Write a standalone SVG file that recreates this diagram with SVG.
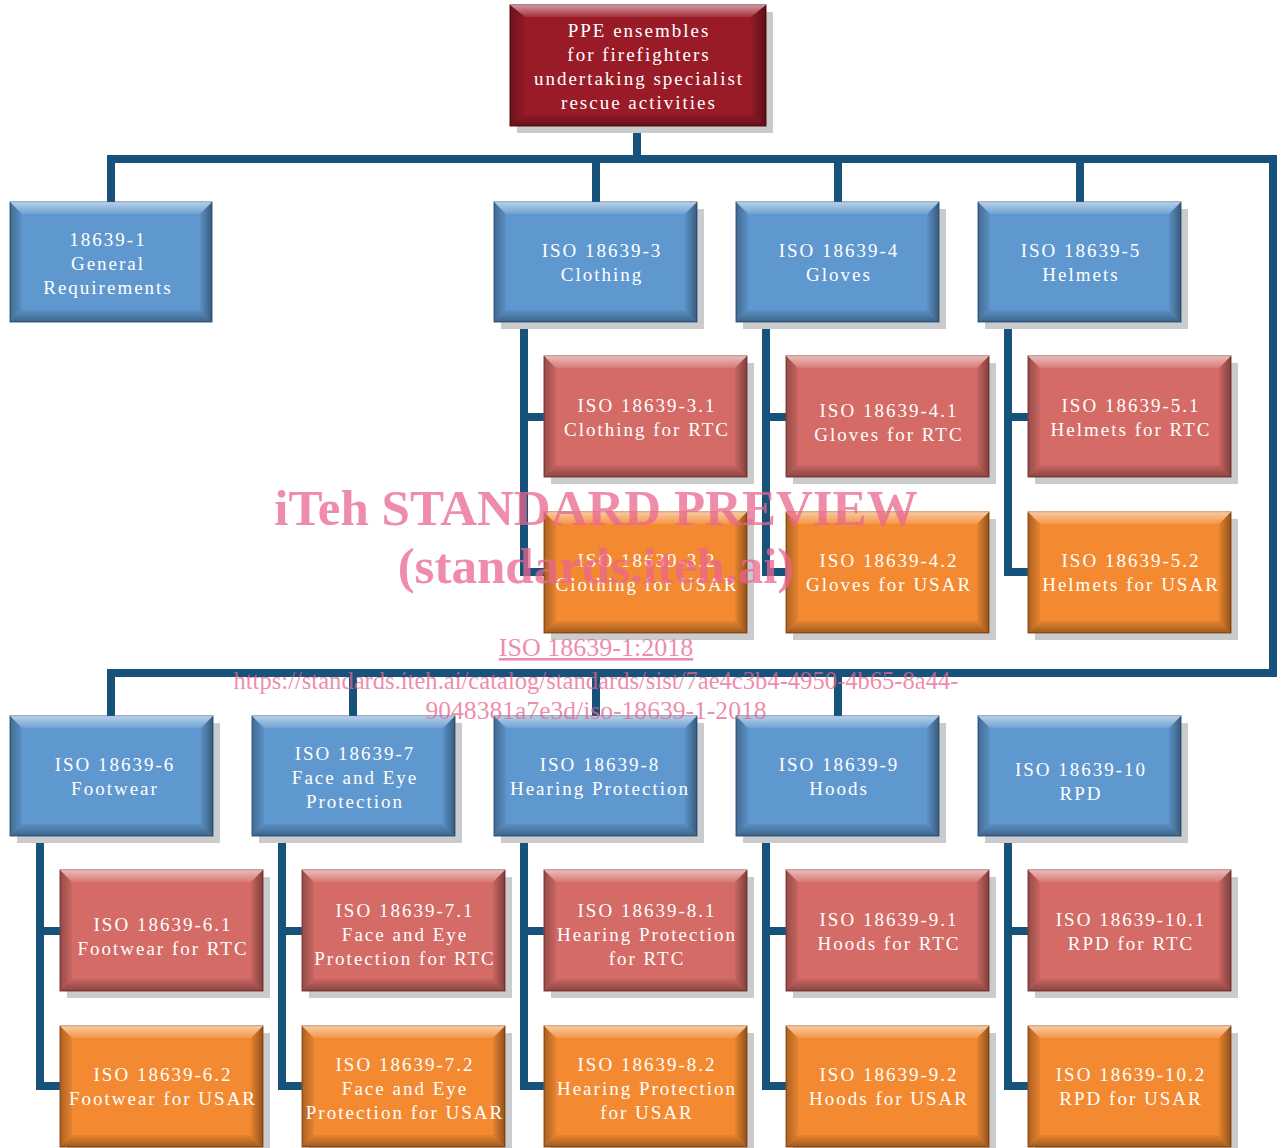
<svg xmlns="http://www.w3.org/2000/svg" xmlns:xlink="http://www.w3.org/1999/xlink" width="1281" height="1148" viewBox="0 0 1281 1148">
<style>
.sh{fill:#c9cbcc}
.blue{fill:#5f98cf;stroke:#3d6790;stroke-width:1}
.red{fill:#d46b66;stroke:#8e4040;stroke-width:1}
.orange{fill:#f38a31;stroke:#a4581c;stroke-width:1}
.dark{fill:#9a1b28;stroke:#5a0e15;stroke-width:1}
.lbl{font-family:"Liberation Serif","DejaVu Serif",serif;font-size:19px;letter-spacing:2px;fill:#ffffff;text-anchor:middle}
.conn{fill:none;stroke:#16527a;stroke-width:8;stroke-linejoin:miter;stroke-linecap:butt}
.wm{font-family:"Liberation Serif","Times New Roman",serif;fill:#e9668f;fill-opacity:0.75;text-anchor:middle}
</style>
<defs>
<linearGradient id="gTop" x1="0" y1="0" x2="0" y2="1">
<stop offset="0" stop-color="#fff" stop-opacity="0.55"/>
<stop offset="1" stop-color="#fff" stop-opacity="0.1"/>
</linearGradient>
<linearGradient id="gBot" x1="0" y1="0" x2="0" y2="1">
<stop offset="0" stop-color="#000" stop-opacity="0.05"/>
<stop offset="1" stop-color="#000" stop-opacity="0.35"/>
</linearGradient>
<linearGradient id="gLeft" x1="0" y1="0" x2="1" y2="0">
<stop offset="0" stop-color="#000" stop-opacity="0.3"/>
<stop offset="1" stop-color="#000" stop-opacity="0.05"/>
</linearGradient>
<linearGradient id="gRight" x1="0" y1="0" x2="1" y2="0">
<stop offset="0" stop-color="#000" stop-opacity="0.05"/>
<stop offset="1" stop-color="#000" stop-opacity="0.4"/>
</linearGradient>
<symbol id="bevel" viewBox="0 0 203 121" preserveAspectRatio="none">
<polygon points="0,0 203,0 191,12 12,12" fill="url(#gTop)"/>
<polygon points="0,121 203,121 191,109 12,109" fill="url(#gBot)"/>
<polygon points="0,0 12,12 12,109 0,121" fill="url(#gLeft)"/>
<polygon points="203,0 191,12 191,109 203,121" fill="url(#gRight)"/>
</symbol>
</defs>

<g id="connectors">
<path class="conn" d="M637,126 V159"/>
<path class="conn" d="M111,202 V159 H1273 V673 H111 V716"/>
<path class="conn" d="M596,159 V202 M838,159 V202 M1080,159 V202"/>
<path class="conn" d="M353,673 V716 M596,673 V716 M838,673 V716"/>
<path class="conn" d="M524,322 V572 H544 M524,417 H544"/>
<path class="conn" d="M766,322 V572 H786 M766,417 H786"/>
<path class="conn" d="M1008,322 V572 H1028 M1008,417 H1028"/>
<path class="conn" d="M40,836 V1086 H60 M40,931 H60"/>
<path class="conn" d="M282,836 V1086 H302 M282,931 H302"/>
<path class="conn" d="M524,836 V1086 H544 M524,931 H544"/>
<path class="conn" d="M766,836 V1086 H786 M766,931 H786"/>
<path class="conn" d="M1008,836 V1086 H1028 M1008,931 H1028"/>
</g>

<g id="root">
<rect class="sh" x="517" y="12" width="256" height="121"/>
<rect class="dark" x="510" y="5" width="256" height="121"/>
<use href="#bevel" x="510" y="5" width="256" height="121"/>
<text class="lbl"><tspan x="639" y="37">PPE ensembles</tspan><tspan x="639" y="61">for firefighters</tspan><tspan x="639" y="85">undertaking specialist</tspan><tspan x="639" y="109">rescue activities</tspan></text>
</g>

<g id="n1">
<rect class="blue" x="10" y="202" width="202" height="120"/>
<use href="#bevel" x="10" y="202" width="202" height="120"/>
<text class="lbl"><tspan x="108" y="246">18639-1</tspan><tspan x="108" y="270">General</tspan><tspan x="108" y="294">Requirements</tspan></text>
</g>

<g id="n3">
<rect class="sh" x="501" y="209" width="203" height="120"/>
<rect class="blue" x="494" y="202" width="203" height="120"/>
<use href="#bevel" x="494" y="202" width="203" height="120"/>
<text class="lbl"><tspan x="602" y="257">ISO 18639-3</tspan><tspan x="602" y="281">Clothing</tspan></text>
</g>
<g id="n4">
<rect class="sh" x="743" y="209" width="203" height="120"/>
<rect class="blue" x="736" y="202" width="203" height="120"/>
<use href="#bevel" x="736" y="202" width="203" height="120"/>
<text class="lbl"><tspan x="839" y="257">ISO 18639-4</tspan><tspan x="839" y="281">Gloves</tspan></text>
</g>
<g id="n5">
<rect class="sh" x="985" y="209" width="203" height="120"/>
<rect class="blue" x="978" y="202" width="203" height="120"/>
<use href="#bevel" x="978" y="202" width="203" height="120"/>
<text class="lbl"><tspan x="1081" y="257">ISO 18639-5</tspan><tspan x="1081" y="281">Helmets</tspan></text>
</g>

<g id="n3-1">
<rect class="sh" x="551" y="363" width="203" height="121"/>
<rect class="red" x="544" y="356" width="203" height="121"/>
<use href="#bevel" x="544" y="356" width="203" height="121"/>
<text class="lbl"><tspan x="647" y="412">ISO 18639-3.1</tspan><tspan x="647" y="436">Clothing for RTC</tspan></text>
</g>
<g id="n4-1">
<rect class="sh" x="793" y="363" width="203" height="121"/>
<rect class="red" x="786" y="356" width="203" height="121"/>
<use href="#bevel" x="786" y="356" width="203" height="121"/>
<text class="lbl"><tspan x="889" y="417">ISO 18639-4.1</tspan><tspan x="889" y="441">Gloves for RTC</tspan></text>
</g>
<g id="n5-1">
<rect class="sh" x="1035" y="363" width="203" height="121"/>
<rect class="red" x="1028" y="356" width="203" height="121"/>
<use href="#bevel" x="1028" y="356" width="203" height="121"/>
<text class="lbl"><tspan x="1131" y="412">ISO 18639-5.1</tspan><tspan x="1131" y="436">Helmets for RTC</tspan></text>
</g>

<g id="n3-2">
<rect class="sh" x="551" y="519" width="203" height="121"/>
<rect class="orange" x="544" y="512" width="203" height="121"/>
<use href="#bevel" x="544" y="512" width="203" height="121"/>
<text class="lbl"><tspan x="647" y="567">ISO 18639-3.2</tspan><tspan x="647" y="591">Clothing for USAR</tspan></text>
</g>
<g id="n4-2">
<rect class="sh" x="793" y="519" width="203" height="121"/>
<rect class="orange" x="786" y="512" width="203" height="121"/>
<use href="#bevel" x="786" y="512" width="203" height="121"/>
<text class="lbl"><tspan x="889" y="567">ISO 18639-4.2</tspan><tspan x="889" y="591">Gloves for USAR</tspan></text>
</g>
<g id="n5-2">
<rect class="sh" x="1035" y="519" width="203" height="121"/>
<rect class="orange" x="1028" y="512" width="203" height="121"/>
<use href="#bevel" x="1028" y="512" width="203" height="121"/>
<text class="lbl"><tspan x="1131" y="567">ISO 18639-5.2</tspan><tspan x="1131" y="591">Helmets for USAR</tspan></text>
</g>

<g id="n6">
<rect class="sh" x="17" y="723" width="203" height="120"/>
<rect class="blue" x="10" y="716" width="203" height="120"/>
<use href="#bevel" x="10" y="716" width="203" height="120"/>
<text class="lbl"><tspan x="115" y="771">ISO 18639-6</tspan><tspan x="115" y="795">Footwear</tspan></text>
</g>
<g id="n7">
<rect class="sh" x="259" y="723" width="203" height="120"/>
<rect class="blue" x="252" y="716" width="203" height="120"/>
<use href="#bevel" x="252" y="716" width="203" height="120"/>
<text class="lbl"><tspan x="355" y="760">ISO 18639-7</tspan><tspan x="355" y="784">Face and Eye</tspan><tspan x="355" y="808">Protection</tspan></text>
</g>
<g id="n8">
<rect class="sh" x="501" y="723" width="203" height="120"/>
<rect class="blue" x="494" y="716" width="203" height="120"/>
<use href="#bevel" x="494" y="716" width="203" height="120"/>
<text class="lbl"><tspan x="600" y="771">ISO 18639-8</tspan><tspan x="600" y="795">Hearing Protection</tspan></text>
</g>
<g id="n9">
<rect class="sh" x="743" y="723" width="203" height="120"/>
<rect class="blue" x="736" y="716" width="203" height="120"/>
<use href="#bevel" x="736" y="716" width="203" height="120"/>
<text class="lbl"><tspan x="839" y="771">ISO 18639-9</tspan><tspan x="839" y="795">Hoods</tspan></text>
</g>
<g id="n10">
<rect class="sh" x="985" y="723" width="203" height="120"/>
<rect class="blue" x="978" y="716" width="203" height="120"/>
<use href="#bevel" x="978" y="716" width="203" height="120"/>
<text class="lbl"><tspan x="1081" y="776">ISO 18639-10</tspan><tspan x="1081" y="800">RPD</tspan></text>
</g>

<g id="n6-1">
<rect class="sh" x="67" y="877" width="203" height="121"/>
<rect class="red" x="60" y="870" width="203" height="121"/>
<use href="#bevel" x="60" y="870" width="203" height="121"/>
<text class="lbl"><tspan x="163" y="931">ISO 18639-6.1</tspan><tspan x="163" y="955">Footwear for RTC</tspan></text>
</g>
<g id="n7-1">
<rect class="sh" x="309" y="877" width="203" height="121"/>
<rect class="red" x="302" y="870" width="203" height="121"/>
<use href="#bevel" x="302" y="870" width="203" height="121"/>
<text class="lbl"><tspan x="405" y="917">ISO 18639-7.1</tspan><tspan x="405" y="941">Face and Eye</tspan><tspan x="405" y="965">Protection for RTC</tspan></text>
</g>
<g id="n8-1">
<rect class="sh" x="551" y="877" width="203" height="121"/>
<rect class="red" x="544" y="870" width="203" height="121"/>
<use href="#bevel" x="544" y="870" width="203" height="121"/>
<text class="lbl"><tspan x="647" y="917">ISO 18639-8.1</tspan><tspan x="647" y="941">Hearing Protection</tspan><tspan x="647" y="965">for RTC</tspan></text>
</g>
<g id="n9-1">
<rect class="sh" x="793" y="877" width="203" height="121"/>
<rect class="red" x="786" y="870" width="203" height="121"/>
<use href="#bevel" x="786" y="870" width="203" height="121"/>
<text class="lbl"><tspan x="889" y="926">ISO 18639-9.1</tspan><tspan x="889" y="950">Hoods for RTC</tspan></text>
</g>
<g id="n10-1">
<rect class="sh" x="1035" y="877" width="203" height="121"/>
<rect class="red" x="1028" y="870" width="203" height="121"/>
<use href="#bevel" x="1028" y="870" width="203" height="121"/>
<text class="lbl"><tspan x="1131" y="926">ISO 18639-10.1</tspan><tspan x="1131" y="950">RPD for RTC</tspan></text>
</g>

<g id="n6-2">
<rect class="sh" x="67" y="1033" width="203" height="121"/>
<rect class="orange" x="60" y="1026" width="203" height="121"/>
<use href="#bevel" x="60" y="1026" width="203" height="121"/>
<text class="lbl"><tspan x="163" y="1081">ISO 18639-6.2</tspan><tspan x="163" y="1105">Footwear for USAR</tspan></text>
</g>
<g id="n7-2">
<rect class="sh" x="309" y="1033" width="203" height="121"/>
<rect class="orange" x="302" y="1026" width="203" height="121"/>
<use href="#bevel" x="302" y="1026" width="203" height="121"/>
<text class="lbl"><tspan x="405" y="1071">ISO 18639-7.2</tspan><tspan x="405" y="1095">Face and Eye</tspan><tspan x="405" y="1119">Protection for USAR</tspan></text>
</g>
<g id="n8-2">
<rect class="sh" x="551" y="1033" width="203" height="121"/>
<rect class="orange" x="544" y="1026" width="203" height="121"/>
<use href="#bevel" x="544" y="1026" width="203" height="121"/>
<text class="lbl"><tspan x="647" y="1071">ISO 18639-8.2</tspan><tspan x="647" y="1095">Hearing Protection</tspan><tspan x="647" y="1119">for USAR</tspan></text>
</g>
<g id="n9-2">
<rect class="sh" x="793" y="1033" width="203" height="121"/>
<rect class="orange" x="786" y="1026" width="203" height="121"/>
<use href="#bevel" x="786" y="1026" width="203" height="121"/>
<text class="lbl"><tspan x="889" y="1081">ISO 18639-9.2</tspan><tspan x="889" y="1105">Hoods for USAR</tspan></text>
</g>
<g id="n10-2">
<rect class="sh" x="1035" y="1033" width="203" height="121"/>
<rect class="orange" x="1028" y="1026" width="203" height="121"/>
<use href="#bevel" x="1028" y="1026" width="203" height="121"/>
<text class="lbl"><tspan x="1131" y="1081">ISO 18639-10.2</tspan><tspan x="1131" y="1105">RPD for USAR</tspan></text>
</g>

<g id="watermark">
<text class="wm" x="596" y="525" font-size="51" font-weight="bold">iTeh STANDARD PREVIEW</text>
<text class="wm" x="596" y="583" font-size="51" font-weight="bold">(standards.iteh.ai)</text>
<text class="wm" x="596" y="656" font-size="26" text-decoration="underline">ISO 18639-1:2018</text>
<text class="wm" x="596" y="689" font-size="26" textLength="725" lengthAdjust="spacingAndGlyphs">https://standards.iteh.ai/catalog/standards/sist/7ae4c3b4-4950-4b65-8a44-</text>
<text class="wm" x="596" y="719" font-size="26" textLength="341" lengthAdjust="spacingAndGlyphs">9048381a7e3d/iso-18639-1-2018</text>
</g>
</svg>
